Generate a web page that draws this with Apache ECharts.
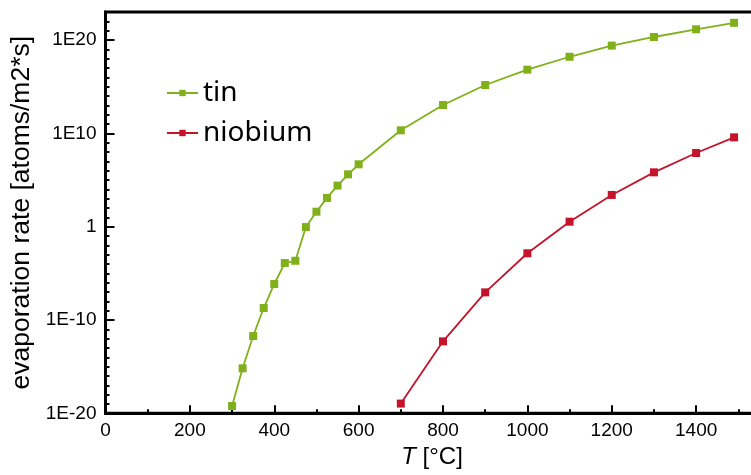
<!DOCTYPE html>
<html>
<head>
<meta charset="utf-8">
<script src="https://cdn.jsdelivr.net/npm/echarts@6/dist/echarts.min.js"></script>
<style>
  html, body { margin: 0; padding: 0; background: #fff; }
  #chart { width: 751px; height: 475px; }
</style>
</head>
<body>
<div id="chart"></div>
<script>
// Temperatures in °C and evaporation rates in atoms/(m2*s)
const tinT = [300, 325, 350, 375, 400, 425, 450, 475, 500, 525, 550, 575, 600,
              700, 800, 900, 1000, 1100, 1200, 1300, 1400, 1490];
const tinRate = [6e-20, 6.6e-16, 1.9e-12, 1.9e-9, 7.2e-7, 1.26e-4, 2.2e-4, 0.9, 40, 1.2e3, 2.5e4, 4e5, 4.8e6,
                 2.1e10, 1.07e13, 1.5e15, 6.6e16, 1.6e18, 2.5e19, 2.1e20, 1.4e21, 7e21];
const niobiumT = [700, 800, 900, 1000, 1100, 1200, 1300, 1400, 1490];
const niobiumRate = [1.1e-19, 5.1e-13, 9.1e-8, 1.4e-3, 3.4, 2.5e3, 6.6e5, 7.8e7, 3.7e9];

const seriesNames = ['tin', 'niobium'];
const seriesColors = ['#80b01a', '#c4142c'];
const yName = 'evaporation rate [atoms/m2*s]';

const pairs = (xs, ys) => xs.map((x, i) => [x, ys[i]]);

const tickFont = { fontFamily: 'Liberation Sans, Arial, sans-serif', fontSize: 19, color: '#000' };

const chart = echarts.init(document.getElementById('chart'), null, { renderer: 'canvas' });

chart.setOption({
  animation: false,
  backgroundColor: '#fff',
  grid: {
    left: 105.5, top: 12, width: 675, height: 401.3,
    outerBoundsMode: 'none', containLabel: false,
    show: true, borderColor: '#000', borderWidth: 3, backgroundColor: 'transparent'
  },
  legend: {
    left: 161, top: 74, orient: 'vertical', itemGap: 12,
    itemWidth: 31, itemHeight: 8,
    textStyle: { fontFamily: 'Noto Sans, sans-serif', fontSize: 28, lineHeight: 28, color: '#000' },
    data: seriesNames
  },
  xAxis: [
    {
      type: 'value', min: 0, max: 1600, interval: 200,
      name: '{it|T} [°C]', nameLocation: 'middle', nameGap: 31,
      nameTextStyle: {
        fontFamily: 'Liberation Sans, Arial, sans-serif', fontSize: 24, color: '#000',
        padding: [0, 22, 0, 0],
        rich: { it: { fontStyle: 'italic', fontFamily: 'Liberation Sans, Arial, sans-serif', fontSize: 24 } }
      },
      axisLine: { show: true, onZero: false, lineStyle: { color: '#000', width: 3 } },
      axisTick: { inside: true, length: 8, lineStyle: { color: '#000', width: 2 } },
      axisLabel: { margin: 8, ...tickFont, formatter: v => String(v) },
      splitLine: { show: false }
    },
    {
      type: 'value', min: 0, max: 1600, interval: 100, position: 'bottom',
      axisLine: { show: false },
      axisTick: { show: true, inside: true, length: 4, lineStyle: { color: '#000', width: 2 } },
      axisLabel: { show: false },
      splitLine: { show: false }
    }
  ],
  yAxis: [
    {
      type: 'log', logBase: 10, min: 1e-20, max: 1e23, interval: 10,
      name: yName, nameLocation: 'middle', nameGap: 55,
      nameTextStyle: { fontFamily: 'Liberation Sans, Arial, sans-serif', fontSize: 26.5, color: '#000' },
      axisLine: { show: true, onZero: false, lineStyle: { color: '#000', width: 3 } },
      axisTick: { inside: true, length: 9, lineStyle: { color: '#000', width: 2 } },
      axisLabel: {
        margin: 9, ...tickFont,
        formatter: v => {
          const e = Math.round(Math.log10(v));
          if (e % 10 !== 0) return '';
          return e === 0 ? '1' : '1E' + e;
        }
      },
      splitLine: { show: false }
    },
    {
      type: 'log', logBase: 10, min: 1e-20, max: 1e23, interval: 1, position: 'left',
      axisLine: { show: false },
      axisTick: { show: true, inside: true, length: 4, lineStyle: { color: '#000', width: 2 } },
      axisLabel: { show: false },
      splitLine: { show: false }
    }
  ],
  series: [
    {
      name: seriesNames[0], type: 'line', xAxisIndex: 0, yAxisIndex: 0,
      data: pairs(tinT, tinRate),
      symbol: 'rect', symbolSize: 8,
      lineStyle: { color: seriesColors[0], width: 1.8 },
      itemStyle: { color: seriesColors[0] }
    },
    {
      name: seriesNames[1], type: 'line', xAxisIndex: 0, yAxisIndex: 0,
      data: pairs(niobiumT, niobiumRate),
      symbol: 'rect', symbolSize: 8,
      lineStyle: { color: seriesColors[1], width: 1.8 },
      itemStyle: { color: seriesColors[1] }
    }
  ]
});
</script>
</body>
</html>
